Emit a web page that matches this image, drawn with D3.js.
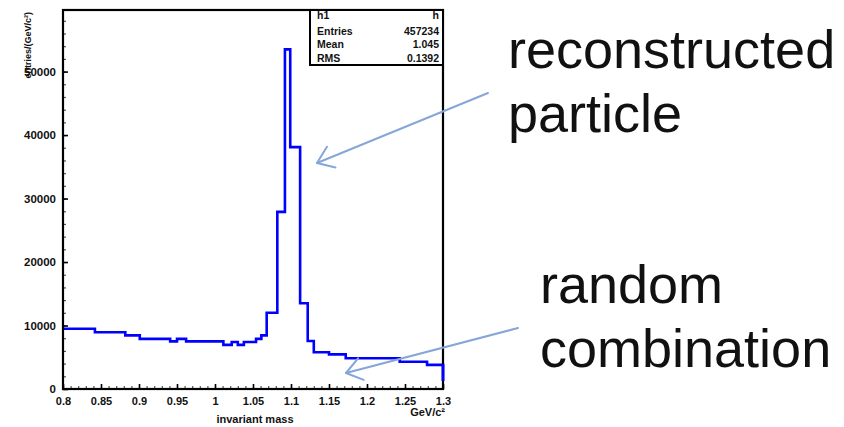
<!DOCTYPE html>
<html>
<head>
<meta charset="utf-8">
<script src="https://cdn.jsdelivr.net/npm/d3@7"></script>
<style>
  body { margin: 0; background: #fff; }
  svg { display: block; font-family: "Liberation Sans", Arial, sans-serif; }
</style>
</head>
<body>
<div id="main"></div>
<script>
// bin edges (GeV/c^2) and entries per bin
const binEdges = [0.800, 0.842, 0.882, 0.901, 0.941, 0.950, 0.962, 1.011, 1.022, 1.030,
                  1.038, 1.054, 1.061, 1.068, 1.082, 1.092, 1.099, 1.112, 1.122, 1.130,
                  1.150, 1.172, 1.243, 1.279, 1.300];
const binCounts = [9500, 8950, 8450, 7900, 7500, 7900, 7500, 6950, 7400, 6950,
                   7400, 7900, 8450, 12000, 27900, 53500, 38100, 13500, 7550, 5800,
                   5450, 4850, 4300, 3800];

const xTicks = [0.8, 0.85, 0.9, 0.95, 1, 1.05, 1.1, 1.15, 1.2, 1.25, 1.3];
const xTickLabels = ["0.8", "0.85", "0.9", "0.95", "1", "1.05", "1.1", "1.15", "1.2", "1.25", "1.3"];
const yTicks = [0, 10000, 20000, 30000, 40000, 50000];
const yTickLabels = ["0", "10000", "20000", "30000", "40000", "50000"];

const statLabels = ["h1", "Entries", "Mean", "RMS"];
const statValues = ["h", "457234", "1.045", "0.1392"];

const notes = [
  {lines: ["reconstructed", "particle"], x: 508, y: [68, 132]},
  {lines: ["random", "combination"], x: 540, y: [303, 367]}
];
const arrows = [
  {from: [488, 93], to: [317, 163]},
  {from: [518, 328], to: [346, 373]}
];

const W = 844, H = 427;
const svg = d3.select('#main').append('svg').attr('width', W).attr('height', H);

const x = d3.scaleLinear().domain([0.8, 1.3]).range([63, 443]);
const y = d3.scaleLinear().domain([0, 59700]).range([389, 10]);

// minor ticks
let xMinor = d3.range(0, 51).map(i => 0.8 + i * 0.01);
let yMinor = d3.range(0, 30).map(i => i * 2000);

svg.append('g').attr('transform', `translate(0,${y(0)})`)
  .call(d3.axisBottom(x).tickValues(xMinor).tickSize(-3).tickFormat(''))
  .call(g => g.select('.domain').remove())
  .selectAll('line').attr('stroke', '#555').attr('stroke-width', 1.2);

svg.append('g').attr('transform', `translate(${x(0.8)},0)`)
  .call(d3.axisLeft(y).tickValues(yMinor).tickSize(-3).tickFormat(''))
  .call(g => g.select('.domain').remove())
  .selectAll('line').attr('stroke', '#555').attr('stroke-width', 1.2);

// major ticks + labels
let xAxis = svg.append('g').attr('transform', `translate(0,${y(0)})`)
  .call(d3.axisBottom(x).tickValues(xTicks).tickSize(-5).tickPadding(8)
    .tickFormat((d, i) => xTickLabels[i]));
xAxis.select('.domain').remove();
xAxis.selectAll('line').attr('stroke', '#000').attr('stroke-width', 1.6);
xAxis.selectAll('text').attr('font-size', 11).attr('font-weight', 'bold')
  .attr('fill', '#111').style('font-family', '"Liberation Sans", Arial, sans-serif');

let yAxis = svg.append('g').attr('transform', `translate(${x(0.8)},0)`)
  .call(d3.axisLeft(y).tickValues(yTicks).tickSize(-5).tickPadding(7)
    .tickFormat((d, i) => yTickLabels[i]));
yAxis.select('.domain').remove();
yAxis.selectAll('line').attr('stroke', '#000').attr('stroke-width', 1.6);
yAxis.selectAll('text').attr('font-size', 11.5).attr('font-weight', 'bold')
  .attr('fill', '#111').style('font-family', '"Liberation Sans", Arial, sans-serif');

// histogram as a step outline (starts on the left axis)
let path = d3.path();
path.moveTo(x(binEdges[0]), y(binCounts[0]));
binCounts.forEach((c, i) => {
  path.lineTo(x(binEdges[i]), y(c));
  path.lineTo(x(binEdges[i + 1]), y(c));
});
path.lineTo(x(binEdges[binEdges.length - 1]), y(0) - 8);

svg.append('path').attr('d', path.toString())
  .attr('fill', 'none').attr('stroke', '#0000ff').attr('stroke-width', 2.6);

// frame
svg.append('rect')
  .attr('x', x(0.8)).attr('y', y(59700))
  .attr('width', x(1.3) - x(0.8)).attr('height', y(0) - y(59700))
  .attr('fill', 'none').attr('stroke', '#000').attr('stroke-width', 2.2);
// blue edge of the last bin sits on top of the right frame line
svg.append('line')
  .attr('x1', x(1.3)).attr('x2', x(1.3))
  .attr('y1', y(binCounts[binCounts.length - 1]) - 1).attr('y2', y(0) - 8)
  .attr('stroke', '#0000ff').attr('stroke-width', 2.6);

// stats box
let stats = svg.append('g');
stats.append('rect').attr('x', 310).attr('y', 10).attr('width', 133).attr('height', 55)
  .attr('fill', '#fff').attr('stroke', '#000').attr('stroke-width', 2);
let rowY = [19, 35, 48, 62];
stats.selectAll('text.lab').data(statLabels).join('text').classed('lab', true)
  .attr('x', 317).attr('y', (d, i) => rowY[i]).text(d => d)
  .attr('font-size', 10.5).attr('font-weight', 'bold').attr('fill', '#111');
stats.selectAll('text.val').data(statValues).join('text').classed('val', true)
  .attr('x', 439).attr('y', (d, i) => rowY[i]).text(d => d)
  .attr('text-anchor', 'end')
  .attr('font-size', 10.5).attr('font-weight', 'bold').attr('fill', '#111');

// axis titles
svg.append('text').attr('x', 255).attr('y', 423).attr('text-anchor', 'middle')
  .attr('font-size', 11).attr('font-weight', 'bold').attr('fill', '#111')
  .text('invariant mass');
svg.append('text').attr('x', 445).attr('y', 416).attr('text-anchor', 'end')
  .attr('font-size', 11).attr('font-weight', 'bold').attr('fill', '#111')
  .text('GeV/c²');
svg.append('text').attr('transform', 'translate(31,12) rotate(-90)')
  .attr('text-anchor', 'end')
  .attr('font-size', 9).attr('font-weight', 'bold').attr('fill', '#111')
  .text('entries/(GeV/c²)');

// annotation arrows
let arrowG = svg.append('g').attr('stroke', '#86a6d8').attr('stroke-width', 2)
  .attr('stroke-linecap', 'round').attr('fill', 'none');
arrows.forEach(a => {
  let dx = a.from[0] - a.to[0], dy = a.from[1] - a.to[1];
  let ang = Math.atan2(dy, dx);
  let L = 19, th = 36 * Math.PI / 180;
  arrowG.append('line')
    .attr('x1', a.from[0]).attr('y1', a.from[1]).attr('x2', a.to[0]).attr('y2', a.to[1]);
  [-th, th].forEach(t => {
    arrowG.append('line')
      .attr('x1', a.to[0]).attr('y1', a.to[1])
      .attr('x2', a.to[0] + L * Math.cos(ang + t))
      .attr('y2', a.to[1] + L * Math.sin(ang + t));
  });
});

// annotation text
notes.forEach(n => {
  n.lines.forEach((t, i) => {
    svg.append('text').attr('x', n.x).attr('y', n.y[i])
      .attr('font-size', 54).attr('fill', '#111').text(t);
  });
});
</script>
</body>
</html>
